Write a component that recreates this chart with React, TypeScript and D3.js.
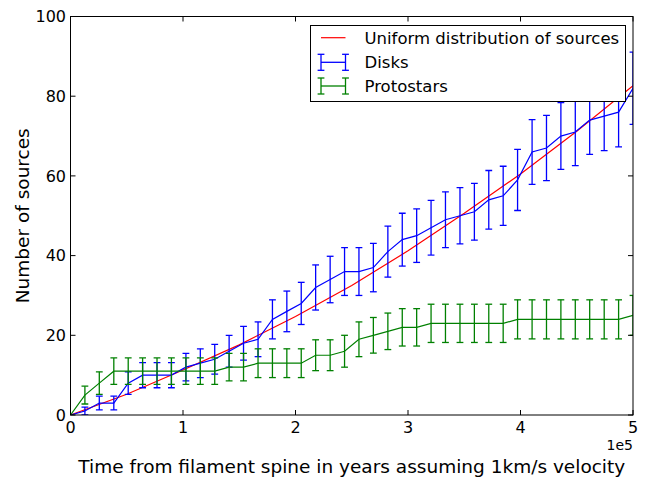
import React from "react";
import * as d3 from "d3";

// x positions in units of 1e5 years
const xs = [0, 0.128, 0.256, 0.385, 0.513, 0.641, 0.769, 0.897, 1.026, 1.154, 1.282, 1.41, 1.538, 1.667, 1.795, 1.923, 2.051, 2.179, 2.308, 2.436, 2.564, 2.692, 2.821, 2.949, 3.077, 3.205, 3.333, 3.462, 3.59, 3.718, 3.846, 3.974, 4.103, 4.231, 4.359, 4.487, 4.615, 4.744, 4.872, 5.0];
const disks = [0, 1, 3, 3, 8, 10, 10, 10, 12, 13, 14, 16, 18, 19, 24, 26, 28, 32, 34, 36, 36, 37, 41, 44, 45, 47, 49, 50, 51, 54, 55, 59, 66, 67, 70, 71, 74, 75, 76, 82];
const disksErr = [0, 1, 1.73, 1.73, 2.83, 3.16, 3.16, 3.16, 3.46, 3.61, 3.74, 4, 4.24, 4.36, 4.9, 5.1, 5.29, 5.66, 5.83, 6, 6, 6.08, 6.4, 6.63, 6.71, 6.86, 7, 7.07, 7.14, 7.35, 7.42, 7.68, 8.12, 8.19, 8.37, 8.43, 8.6, 8.66, 8.72, 9.06];
const protostars = [0, 5, 8, 11, 11, 11, 11, 11, 11, 11, 11, 12, 12, 13, 13, 13, 13, 15, 15, 16, 19, 20, 21, 22, 22, 23, 23, 23, 23, 23, 23, 24, 24, 24, 24, 24, 24, 24, 24, 25];
const protostarsErr = [0, 2.24, 2.83, 3.32, 3.32, 3.32, 3.32, 3.32, 3.32, 3.32, 3.32, 3.46, 3.46, 3.61, 3.61, 3.61, 3.61, 3.87, 3.87, 4, 4.36, 4.47, 4.58, 4.69, 4.69, 4.8, 4.8, 4.8, 4.8, 4.8, 4.8, 4.9, 4.9, 4.9, 4.9, 4.9, 4.9, 4.9, 4.9, 5];
const uniformX = [0, 0.5, 1, 1.5, 2, 2.5, 3, 3.5, 4, 4.5, 5];
const uniformY = [0, 5.2, 11.3, 17.6, 24.7, 32.5, 41.2, 50.6, 60.5, 71.2, 82.6];
const xTicks = [0, 1, 2, 3, 4, 5];
const yTicks = [0, 20, 40, 60, 80, 100];
const legendLabels = ["Uniform distribution of sources", "Disks", "Protostars"];

const W = 648, H = 477;
const L = 70.5, R = 633, T = 16.5, B = 415;
const FONT = "DejaVu Sans, sans-serif";

export default function App() {
  const x = d3.scaleLinear().domain([0, 5]).range([L, R]);
  const y = d3.scaleLinear().domain([0, 100]).range([B, T]);
  const line = (xv: number[], yv: number[]) =>
    d3.line<number>().x((_, i) => x(xv[i])).y((v) => y(v))(yv) || "";

  const errBars = (vals: number[], errs: number[], color: string) =>
    vals.map((v, i) => {
      if (errs[i] <= 0) return null;
      const cx = x(xs[i]);
      const y0 = y(v - errs[i]);
      const y1 = y(v + errs[i]);
      return (
        <g key={i} stroke={color} strokeWidth={1.3}>
          <line x1={cx} x2={cx} y1={y0} y2={y1} />
          <line x1={cx - 3.4} x2={cx + 3.4} y1={y0} y2={y0} />
          <line x1={cx - 3.4} x2={cx + 3.4} y1={y1} y2={y1} />
        </g>
      );
    });

  const legendX = 310.5, legendY = 25.5, legendW = 315, legendH = 76;
  const rowY = [37.7, 62.3, 86];
  const handle = (yy: number, color: string) => (
    <g stroke={color} strokeWidth={1.3}>
      <line x1={321} x2={345.5} y1={yy} y2={yy} />
      {[321, 345.5].map((hx) => (
        <g key={hx}>
          <line x1={hx} x2={hx} y1={yy - 8} y2={yy + 8} />
          <line x1={hx - 3.4} x2={hx + 3.4} y1={yy - 8} y2={yy - 8} />
          <line x1={hx - 3.4} x2={hx + 3.4} y1={yy + 8} y2={yy + 8} />
        </g>
      ))}
    </g>
  );

  return (
    <svg width={W} height={H} style={{ position: "absolute", left: 0, top: 0, background: "#fff" }} fontFamily={FONT}>
      <rect x={0} y={0} width={W} height={H} fill="#fff" />
      <defs>
        <clipPath id="plotclip">
          <rect x={L} y={T} width={R - L} height={B - T} />
        </clipPath>
      </defs>
      <g clipPath="url(#plotclip)" fill="none">
        <path d={line(uniformX, uniformY)} stroke="#ff0000" strokeWidth={1.2} />
        {errBars(disks, disksErr, "#0000ff")}
        <path d={line(xs, disks)} stroke="#0000ff" strokeWidth={1.2} />
        {errBars(protostars, protostarsErr, "#008000")}
        <path d={line(xs, protostars)} stroke="#008000" strokeWidth={1.2} />
      </g>
      {/* ticks */}
      <g stroke="#000" strokeWidth={1}>
        {xTicks.map((t) => (
          <g key={"xt" + t}>
            <line x1={x(t)} x2={x(t)} y1={B} y2={B - 5} />
            <line x1={x(t)} x2={x(t)} y1={T} y2={T + 5} />
          </g>
        ))}
        {yTicks.map((t) => (
          <g key={"yt" + t}>
            <line x1={L} x2={L + 5} y1={y(t)} y2={y(t)} />
            <line x1={R} x2={R - 5} y1={y(t)} y2={y(t)} />
          </g>
        ))}
      </g>
      <rect x={L} y={T} width={R - L} height={B - T} fill="none" stroke="#000" strokeWidth={1} />
      {xTicks.map((t) => (
        <text key={"xl" + t} x={x(t)} y={433} fontSize={16} textAnchor="middle" fill="#000">
          {t}
        </text>
      ))}
      {yTicks.map((t) => (
        <text key={"yl" + t} x={66} y={y(t)} dy="0.36em" fontSize={16} textAnchor="end" fill="#000">
          {t}
        </text>
      ))}
      <text x={R} y={450} fontSize={14} textAnchor="end" fill="#000">1e5</text>
      <text x={(L + R) / 2} y={473} fontSize={18.5} textAnchor="middle" fill="#000">
        Time from filament spine in years assuming 1km/s velocity
      </text>
      <text transform={`translate(29,${(T + B) / 2}) rotate(-90)`} fontSize={18.5} textAnchor="middle" fill="#000">
        Number of sources
      </text>
      {/* legend */}
      <rect x={legendX} y={legendY} width={legendW} height={legendH} fill="#fff" stroke="#000" strokeWidth={1} />
      <line x1={321} x2={345.5} y1={rowY[0]} y2={rowY[0]} stroke="#ff0000" strokeWidth={1.2} />
      {handle(rowY[1], "#0000ff")}
      {handle(rowY[2], "#008000")}
      {legendLabels.map((lab, i) => (
        <text key={lab} x={364.5} y={rowY[i]} dy="0.36em" fontSize={16.5} fill="#000">
          {lab}
        </text>
      ))}
    </svg>
  );
}
